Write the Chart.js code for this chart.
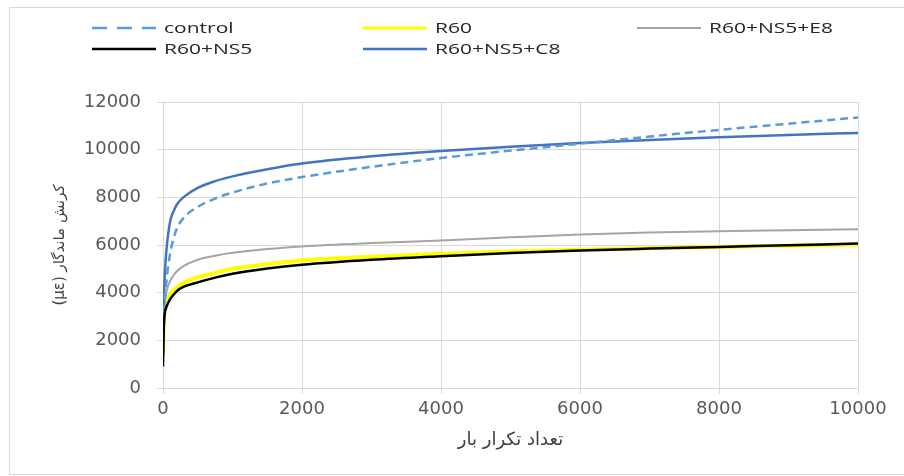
<!DOCTYPE html>
<html>
<head>
<meta charset="utf-8">
<script src="https://cdn.jsdelivr.net/npm/chart.js@4.4.1/dist/chart.umd.min.js"></script>
<style>
  html, body { margin: 0; padding: 0; background: #fff; }
  #wrap { position: relative; width: 904px; height: 476px; overflow: hidden; }
  #frame { position: absolute; left: 9px; top: 7px; width: 910px; height: 468px;
           border: 1px solid #d9d9d9; box-sizing: border-box; }
  #c { position: absolute; left: 0; top: 0; }
</style>
</head>
<body>
<div id="wrap">
  <div id="frame"></div>
  <canvas id="c" width="904" height="476"></canvas>
</div>
<script>
// Load cycles (x) and permanent strain in microstrain (y) for each mix
const cycles    = [0, 10, 25, 50, 100, 150, 200, 300, 500, 750, 1000, 1500, 2000, 3000, 4000, 5000, 6000, 7000, 8000, 9000, 10000];
const control   = [1500, 2600, 3600, 4500, 5600, 6250, 6700, 7150, 7600, 7950, 8200, 8580, 8850, 9280, 9650, 9960, 10250, 10550, 10830, 11090, 11350];
const r60       = [1300, 2700, 3300, 3650, 3930, 4090, 4220, 4420, 4640, 4830, 5000, 5200, 5350, 5510, 5630, 5730, 5800, 5860, 5920, 5970, 6020];
const r60ns5e8  = [1500, 2900, 3600, 4050, 4480, 4720, 4900, 5120, 5380, 5550, 5670, 5830, 5940, 6080, 6190, 6320, 6440, 6520, 6580, 6620, 6660];
const r60ns5    = [900, 2400, 3100, 3400, 3720, 3910, 4070, 4250, 4430, 4630, 4790, 5010, 5170, 5380, 5530, 5660, 5770, 5850, 5920, 5990, 6060];
const r60ns5c8  = [1400, 3300, 4700, 5800, 6950, 7400, 7700, 8020, 8400, 8680, 8880, 9180, 9420, 9720, 9940, 10120, 10280, 10410, 10520, 10620, 10700];

const seriesNames = ['control', 'R60', 'R60+NS5+E8', 'R60+NS5', 'R60+NS5+C8'];
const xTickValues = [0, 2000, 4000, 6000, 8000, 10000];
const yTickValues = [0, 2000, 4000, 6000, 8000, 10000, 12000];
const xTitle = 'تعداد تکرار بار';
const yTitle = '\u202Bکرنش ماندگار (µε)\u202C';

const toPoints = ys => cycles.map((c, i) => ({ x: c, y: ys[i] }));

// Legend laid out in a 3-column grid above the plot
const LEGEND_COLS = [92, 363, 637];
const LEGEND_ROWS = [28, 49];
const LEGEND_LINE = 64;
const LEGEND_GAP = 8;
const LEGEND_STRETCH = 1.4;

const gridLegend = {
  id: 'gridLegend',
  afterDraw(chart) {
    const ctx = chart.ctx;
    chart.data.datasets.forEach((ds, i) => {
      const x = LEGEND_COLS[i % 3];
      const y = LEGEND_ROWS[Math.floor(i / 3)];
      ctx.save();
      ctx.strokeStyle = ds.borderColor;
      ctx.lineWidth = Math.min(ds.borderWidth, 3);
      ctx.setLineDash(ds.borderDash && ds.borderDash.length ? [15, 10] : []);
      ctx.beginPath();
      ctx.moveTo(x, y);
      ctx.lineTo(x + LEGEND_LINE, y);
      ctx.stroke();
      ctx.setLineDash([]);
      ctx.translate(x + LEGEND_LINE + LEGEND_GAP, y);
      ctx.scale(LEGEND_STRETCH, 1);
      ctx.font = '500 15px "Open Sans"';
      ctx.fillStyle = '#262626';
      ctx.textBaseline = 'middle';
      ctx.textAlign = 'left';
      ctx.fillText(ds.label, 0, 1);
      ctx.restore();
    });
  }
};

const tickFont = { family: '"DejaVu Sans"', size: 18 };
const gridColor = '#d9d9d9';

new Chart(document.getElementById('c'), {
  type: 'line',
  data: {
    datasets: [
      { label: seriesNames[0], data: toPoints(control), borderColor: '#5B9BD5', borderWidth: 2.5, borderDash: [8, 5], order: 2 },
      { label: seriesNames[1], data: toPoints(r60), borderColor: '#FFFF00', borderWidth: 4, order: 5 },
      { label: seriesNames[2], data: toPoints(r60ns5e8), borderColor: '#A5A5A5', borderWidth: 2, order: 4 },
      { label: seriesNames[3], data: toPoints(r60ns5), borderColor: '#000000', borderWidth: 2.5, order: 1 },
      { label: seriesNames[4], data: toPoints(r60ns5c8), borderColor: '#4472C4', borderWidth: 2.5, order: 3 }
    ]
  },
  options: {
    responsive: false,
    animation: false,
    elements: {
      point: { radius: 0, hoverRadius: 0 },
      line: { cubicInterpolationMode: 'monotone', fill: false }
    },
    layout: { padding: { left: 40, right: 46, top: 102, bottom: 0 } },
    plugins: { legend: { display: false }, tooltip: { enabled: false } },
    scales: {
      x: {
        type: 'linear', min: 0, max: 10000,
        afterBuildTicks: s => { s.ticks = xTickValues.map(v => ({ value: v })); },
        afterFit: s => { s.height = 88; },
        ticks: { color: '#595959', font: tickFont, padding: 5, maxRotation: 0, callback: v => String(v) },
        grid: { color: gridColor, tickLength: 6 },
        border: { color: gridColor },
        title: { display: true, text: xTitle, color: '#404040',
                 font: { family: '"DejaVu Sans"', size: 18 }, padding: { top: 4, bottom: 25 } }
      },
      y: {
        type: 'linear', min: 0, max: 12000,
        afterBuildTicks: s => { s.ticks = yTickValues.map(v => ({ value: v })); },
        afterFit: s => { s.width = 123; },
        ticks: { color: '#595959', font: tickFont, padding: 16, callback: v => String(v) },
        grid: { color: gridColor, tickLength: 6 },
        border: { color: gridColor },
        title: { display: true, text: yTitle, color: '#404040',
                 font: { family: '"DejaVu Sans"', size: 15 }, padding: { top: 11, bottom: 0 } }
      }
    }
  },
  plugins: [gridLegend]
});
</script>
</body>
</html>
